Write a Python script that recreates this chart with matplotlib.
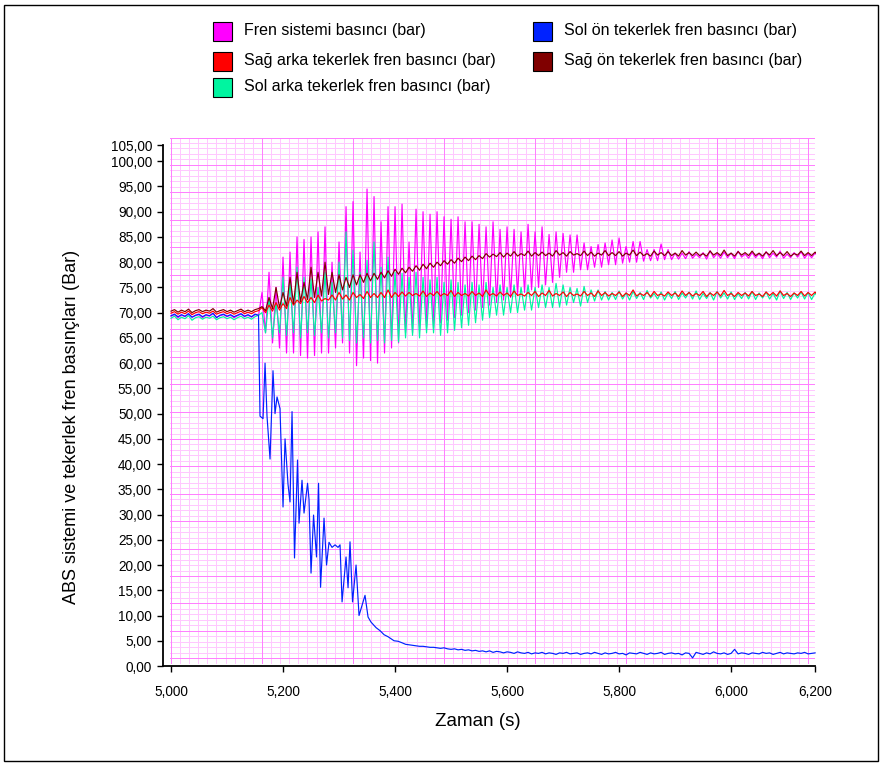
import numpy as np
import matplotlib
matplotlib.use('Agg')
import matplotlib.pyplot as plt
from matplotlib.patches import Rectangle

plt.rcParams['font.family'] = ['Liberation Sans', 'DejaVu Sans']

# ---------------- data ----------------
dt = 0.00625          # sample step of the common time base (s)
t_start = 5.0

fren_pre = [69.3, 69.6, 69.0, 69.5, 69.2, 69.7, 69.1, 69.4, 69.6, 69.0, 69.5, 69.3, 69.8,
            69.1, 69.4, 69.6, 69.2, 69.5, 69.0, 69.4, 69.7, 69.2, 69.5, 69.1, 69.6, 69.4]
fren_osc = [74, 66, 78, 64, 75, 63, 81, 62, 82, 62, 85, 61.5, 84.5, 61, 85, 61.5, 86, 62, 87, 62,
            80, 63, 84, 64, 91, 62, 92, 59.5, 82, 61, 94.5, 60.5, 93, 60, 88, 62, 91, 63, 91, 64,
            91.5, 66, 84, 66, 90.5, 66.5, 90, 67, 89.5, 67, 90, 68, 89, 68.5, 88.5, 69, 89, 69.5, 88, 70,
            88, 70.5, 87.5, 71, 87, 71.5, 88, 72, 86.5, 72.5, 87, 73, 86.5, 73.5, 86, 74, 87.5, 74.5, 86, 75,
            87, 75.5, 85.5, 76, 86, 77, 85.7, 78, 85.4, 78, 85.4, 78.5, 83.8, 78.5, 83.1, 79, 83.5, 79, 83.8, 79.5,
            84.4, 79.5, 84.8, 79.8, 83.1, 80, 84.1, 80, 84.1, 80.2, 82.5, 80.3, 82.5, 80.3, 83.6, 80.5, 82.5, 80.5, 81.8, 80.6,
            81.8, 80.7, 82.1, 80.8, 81.6, 80.9, 81.9, 80.6, 82.3, 80.9, 81.7, 80.8, 82.0, 80.9, 81.8, 80.7, 82.2, 81.0, 81.6, 80.8,
            81.9, 80.9, 81.7, 80.7, 82.1, 80.9, 81.8, 81.0, 82.2, 80.8, 81.6, 80.9, 81.9, 81.0, 82.1, 80.8, 81.7, 80.9, 81.8, 81.0]

sol_arka_pre = [68.9, 69.3, 68.6, 69.1, 68.8, 69.4, 68.5, 69.0, 69.2, 68.7, 69.1, 68.9, 69.3,
                68.6, 69.0, 69.2, 68.8, 69.1, 68.6, 69.0, 69.3, 68.8, 69.1, 68.7, 69.2, 69.5]
sol_arka_osc = [70, 66, 73, 65, 72, 66, 77, 65.5, 76, 66, 79, 65, 77, 66, 76.7, 65.5, 75, 66, 78, 65,
                76, 66, 80, 65, 86, 64.5, 82.4, 64, 78, 65, 80.4, 64, 84, 64.5, 79, 64, 81, 64.5, 78, 64.2,
                77.8, 65, 77, 65.5, 78, 65, 77, 66, 76.5, 66, 77, 65.5, 76, 66, 76.5, 66.5, 76, 67, 75.5, 67.5,
                76, 68, 75.5, 68.5, 76, 69, 75, 69.5, 75.5, 69.5, 75, 70, 75.5, 70, 75, 70.5, 75.5, 70.5, 75, 71,
                75.5, 71, 75, 71, 75.8, 71.1, 75.5, 71.5, 75, 72, 74.8, 71.3, 75.2, 72, 74.5, 72.3, 74.5, 72.5, 74.2, 72.5,
                74, 72.6, 74.3, 72.7, 73.9, 72.5, 74.2, 72.8, 74.0, 72.6, 74.4, 72.9, 73.8, 72.7, 74.1, 72.5, 73.9, 72.8, 74.2, 72.6,
                73.9, 72.9, 74.1, 72.7, 74.3, 72.6, 73.8, 72.8, 74.0, 72.5, 74.2, 72.9, 73.9, 72.7, 74.1, 72.6, 73.8, 72.8, 74.0, 72.7,
                74.2, 72.6, 73.9, 72.9, 74.1, 72.7, 73.8, 72.5, 74.3, 72.8, 74.0, 72.6, 73.9, 72.9, 74.1, 72.7, 74.0, 72.6, 73.9, 72.8]

sag_arka_pre = [69.9, 70.2, 69.7, 70.1, 69.8, 70.3, 69.6, 70.0, 70.2, 69.8, 70.1, 69.9, 70.3,
                69.7, 70.0, 70.2, 69.8, 70.1, 69.7, 70.0, 70.3, 69.8, 70.1, 69.8, 70.2, 70.4]
sag_arka_osc = [71, 70, 71.5, 70.3, 72, 70.5, 71.8, 70.8, 73, 71.5, 72.5, 71.8, 73.2, 72, 73, 72, 73.5, 72.3, 72.8, 72.5,
                73.5, 72.5, 74, 72.7, 73.5, 72.5, 74, 73, 73.6, 72.8, 74.2, 73, 73.8, 73, 74, 73, 74.5, 73, 74, 73.2,
                74.1, 73.3, 74.0, 73.4, 73.8, 73.3, 74.3, 73.2, 73.9, 73.4, 74.2, 73.3, 73.8, 73.4, 74.4, 73.2, 74.0, 73.4, 73.8, 73.3,
                74.2, 73.4, 73.9, 73.2, 74.5, 73.4, 73.8, 73.3, 74.1, 73.4, 73.9, 73.2, 74.3, 73.4, 73.7, 73.3, 74.0, 73.4, 74.2, 73.2,
                73.9, 73.4, 74.4, 73.3, 73.8, 73.4, 74.1, 73.2, 74.0, 73.4, 73.7, 73.3, 74.2, 73.4, 73.9, 73.2, 74.3, 73.4, 74.0, 73.3,
                73.8, 73.4, 74.1, 73.2, 73.9, 73.4, 74.5, 73.3, 73.8, 73.4, 74.0, 73.2, 74.2, 73.4, 73.7, 73.3, 74.1, 73.4, 73.9, 73.2,
                74.3, 73.4, 74.0, 73.3, 73.8, 73.4, 74.2, 73.2, 73.9, 73.4, 74.1, 73.3, 74.4, 73.4, 73.8, 73.2, 74.0, 73.4, 73.9, 73.3,
                74.2, 73.4, 73.7, 73.2, 74.1, 73.4, 74.0, 73.3, 74.3, 73.4, 73.8, 73.2, 73.9, 73.4, 74.2, 73.3, 74.0, 73.4, 74.1, 73.2]

sag_on_pre = [70.3, 70.6, 70.1, 70.5, 70.2, 70.7, 70.0, 70.4, 70.6, 70.2, 70.5, 70.3, 70.8,
              70.1, 70.4, 70.6, 70.2, 70.5, 70.1, 70.4, 70.7, 70.2, 70.5, 70.2, 70.6, 70.8]
sag_on_osc = [71.2, 70.4, 73, 70.8, 75, 71, 74, 71.3, 77, 71.8, 78, 72.2, 76, 72.6, 79, 73, 78, 73.3, 80, 73.6,
              78, 74, 77.5, 74.5, 77, 75, 77.5, 75.5, 77.5, 76, 77.8, 76.3, 77.8, 76.6, 78, 76.9, 78.3, 77.2, 78.6, 77.6,
              78.8, 77.9, 79, 78.2, 79.3, 78.4, 79.6, 78.7, 79.8, 79, 80, 79.3, 80.3, 79.6, 80.5, 79.8, 80.8, 80.1, 81, 80.3,
              81.2, 80.5, 81.3, 80.7, 81.7, 81.0, 81.6, 81.1, 81.9, 81.0, 81.8, 81.2, 82.1, 81.2, 81.7, 81.3, 82.2, 81.2, 81.9, 81.3,
              82.0, 81.3, 81.8, 81.2, 82.3, 81.4, 81.9, 81.2, 82.1, 81.4, 81.7, 81.3, 82.2, 81.3, 82.0, 81.2, 81.8, 81.4, 82.3, 81.3,
              81.9, 81.3, 82.1, 81.2, 81.8, 81.4, 82.4, 81.3, 82.0, 81.3, 81.7, 81.2, 82.2, 81.4, 81.9, 81.3, 82.1, 81.3, 81.8, 81.2,
              82.3, 81.4, 81.9, 81.3, 82.0, 81.3, 81.7, 81.2, 82.2, 81.4, 81.9, 81.3, 82.4, 81.3, 81.8, 81.2, 82.1, 81.4, 81.9, 81.3,
              82.2, 81.3, 81.8, 81.2, 82.0, 81.4, 82.3, 81.3, 81.9, 81.3, 82.1, 81.2, 81.7, 81.4, 82.2, 81.3, 81.9, 81.3, 82.0, 81.2]

sol_on_pre = [69.4, 69.7, 69.2, 69.6, 69.3, 69.8, 69.1, 69.5, 69.7, 69.2, 69.6, 69.4, 69.9,
              69.0, 69.5, 69.7, 69.3, 69.6, 69.2, 69.5, 69.8, 69.3, 69.6, 69.2, 69.7, 69.5]
sol_on_tr_t = [5.1589, 5.1643, 5.1679, 5.1714, 5.1768, 5.1821, 5.1857, 5.1893, 5.1946, 5.2000,
               5.2036, 5.2089, 5.2125, 5.2161, 5.2205, 5.2259, 5.2286, 5.2339, 5.2375, 5.2438,
               5.2464, 5.2500, 5.2545, 5.2598, 5.2634, 5.2670, 5.2732, 5.2777, 5.2821, 5.2875,
               5.2929, 5.2982, 5.3018, 5.3054, 5.3125, 5.3161, 5.3196, 5.3241, 5.3304, 5.3357,
               5.3411, 5.3464, 5.3518, 5.3571, 5.3661, 5.3732, 5.3804, 5.3875, 5.3929, 5.3982,
               5.4054, 5.4125]
sol_on_tr_v = [49.5, 49, 60, 49.5, 41, 58.5, 50, 53.3, 51, 31.5,
               45, 36, 32.5, 50.4, 21.4, 40.8, 28.3, 36.8, 30.3, 36.2,
               33, 18.4, 29.9, 21.6, 36.2, 15.6, 29.3, 20, 24.5, 23.5,
               24, 23.5, 24, 12.7, 21.6, 15.5, 24.6, 12.7, 20, 10,
               12, 14, 9.7, 8.7, 7.6, 7, 6.2, 5.8, 5.4, 5.0,
               4.9, 4.6]
sol_on_tail_start = 5.41875
sol_on_tail = [4.3, 4.2, 4.1, 4.0, 3.9, 3.9, 3.8, 3.7, 3.7, 3.6,
               3.5, 3.6, 3.4, 3.3, 3.4, 3.2, 3.3, 3.1, 3.2, 3.0,
               3.1, 2.9, 3.0, 2.8, 3.0, 2.7, 2.9, 2.8, 2.6, 2.8,
               2.7, 2.5, 2.8, 2.6, 2.5, 2.7, 2.4, 2.6, 2.5, 2.7,
               2.4, 2.6, 2.5, 2.3, 2.6, 2.5, 2.7, 2.4, 2.5, 2.6,
               2.3, 2.5, 2.6, 2.4, 2.7, 2.5, 2.3, 2.6, 2.4, 2.5,
               2.7, 2.4, 2.5, 2.2, 2.6, 2.5, 2.4, 2.7, 2.5, 2.3,
               2.6, 2.4, 2.5, 2.7, 2.3, 2.5, 2.6, 2.4, 2.5, 2.2,
               2.6, 2.5, 1.6, 2.7, 2.5, 2.3, 2.6, 2.4, 2.8, 2.5,
               2.4, 2.6, 2.3, 2.5, 3.3, 2.4, 2.6, 2.5, 2.3, 2.6,
               2.5, 2.4, 2.7, 2.5, 2.6, 2.3, 2.5, 2.7, 2.4, 2.6,
               2.5, 2.4, 2.6, 2.5, 2.7, 2.4, 2.5, 2.6]

series_labels = ['Fren sistemi basıncı (bar)', 'Sağ arka tekerlek fren basıncı (bar)',
                 'Sol arka tekerlek fren basıncı (bar)', 'Sol ön tekerlek fren basıncı (bar)',
                 'Sağ ön tekerlek fren basıncı (bar)']
series_colors = ['#ff00ff', '#ff0000', '#00f5a0', '#0022ff', '#800000']

x_tick_vals = [5.0, 5.2, 5.4, 5.6, 5.8, 6.0, 6.15]
x_tick_labels = ['5,000', '5,200', '5,400', '5,600', '5,800', '6,000', '6,200']
y_tick_vals = list(range(0, 101, 5)) + [103.2]
y_tick_labels = ['%d,00' % v for v in range(0, 101, 5)] + ['105,00']

# ---------------- build series ----------------
def regular(pre, osc):
    v = np.array(pre + osc, dtype=float)
    return t_start + dt * np.arange(len(v)), v

t_fren, v_fren = regular(fren_pre, fren_osc)
t_sola, v_sola = regular(sol_arka_pre, sol_arka_osc)
t_saga, v_saga = regular(sag_arka_pre, sag_arka_osc)
t_sago, v_sago = regular(sag_on_pre, sag_on_osc)
t_solo = np.concatenate([t_start + dt * np.arange(len(sol_on_pre)), np.array(sol_on_tr_t),
                         sol_on_tail_start + dt * np.arange(len(sol_on_tail))])
v_solo = np.concatenate([sol_on_pre, sol_on_tr_v, sol_on_tail])

# ---------------- figure ----------------
W, H = 884, 766
fig = plt.figure(figsize=(W / 100, H / 100), dpi=100)
fig.patch.set_facecolor('white')

ax_l, ax_r, ax_b, ax_t = 163, 816, 666, 137
ax = fig.add_axes([ax_l / W, (H - ax_b) / H, (ax_r - ax_l) / W, (ax_b - ax_t) / H])
ax.set_xlim(4.9857, 6.1516)
ax.set_ylim(0, 104.8)

# grid (chart-software style, independent of the ticks)
vstep = 0.01624
for j in range(71):
    x = 5.0 + j * vstep
    major = (j % 10 == 0)
    ax.plot([x, x], [0.5, 104.7], color='#ff80ff' if major else '#ffc8ff',
            lw=0.72, zorder=0.6 if major else 0.5, snap=True)
hstep = 1.086
for m in range(96):
    y = 1.53 + m * hstep
    major = (m % 5 == 0)
    ax.plot([4.998, 6.148], [y, y], color='#ff80ff' if major else '#ffc8ff',
            lw=0.72, zorder=0.6 if major else 0.5, snap=True)

lw = 0.85
ax.plot(t_fren, v_fren, color=series_colors[0], lw=lw, zorder=2)
ax.plot(t_sola, v_sola, color=series_colors[2], lw=lw, zorder=3)
ax.plot(t_saga, v_saga, color=series_colors[1], lw=lw, zorder=4)
ax.plot(t_sago, v_sago, color=series_colors[4], lw=lw, zorder=5)
ax.plot(t_solo, v_solo, color=series_colors[3], lw=lw, zorder=6)

for s in ['top', 'right']:
    ax.spines[s].set_visible(False)
ax.spines['left'].set_bounds(0, 103.2)
ax.spines['bottom'].set_bounds(4.9857, 6.15)
for s in ['left', 'bottom']:
    ax.spines[s].set_linewidth(1.3)

ax.set_xticks(x_tick_vals)
ax.set_xticklabels(x_tick_labels)
ax.set_yticks(y_tick_vals)
ax.set_yticklabels(y_tick_labels)
ax.tick_params(axis='both', direction='out', length=4.5, width=1, labelsize=9.8, colors='black')
ax.tick_params(axis='y', pad=3.5)
ax.tick_params(axis='x', pad=9)

ax.set_xlabel('Zaman (s)', fontsize=13.5)
ax.xaxis.set_label_coords((478 - ax_l) / (ax_r - ax_l), (ax_b - 722) / (ax_b - ax_t))
ax.xaxis.label.set_va('center')
ax.set_ylabel('ABS sistemi ve tekerlek fren basınçları (Bar)', fontsize=13)
ax.yaxis.set_label_coords((72 - ax_l) / (ax_r - ax_l), (ax_b - 427) / (ax_b - ax_t))
ax.yaxis.label.set_va('center')

# legend (manually laid out like the original)
legend_pos = [(213, 31), (213, 61), (213, 87), (533, 31), (533, 61)]
legend_order = [0, 1, 2, 3, 4]
for (px, py), idx in zip(legend_pos, legend_order):
    fig.add_artist(Rectangle((px / W, 1 - (py + 9.5) / H), 19 / W, 19 / H,
                             transform=fig.transFigure, facecolor=series_colors[idx],
                             edgecolor='black', lw=0.8))
    fig.text((px + 31) / W, 1 - py / H, series_labels[idx], fontsize=11.5,
             va='center', ha='left', color='black')

# outer frame
fig.add_artist(Rectangle((4 / W, 5 / H), 874 / W, 756 / H, transform=fig.transFigure,
                         fill=False, edgecolor='black', lw=1.0))

fig.savefig('out.png', dpi=100, facecolor='white')
